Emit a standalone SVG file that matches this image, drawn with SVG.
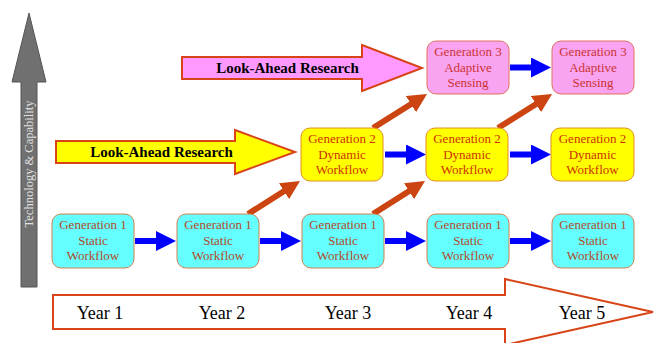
<svg xmlns="http://www.w3.org/2000/svg" width="655" height="343" viewBox="0 0 655 343">
<defs>
<style>
.box text{font-family:"Liberation Serif","Times New Roman",serif;font-size:13px;text-anchor:middle}
.g1 rect{fill:#66FFFF;stroke:#D08050;stroke-width:1}
.g1 text{fill:#B04A2A}
.g2 rect{fill:#FFFF00;stroke:#E09020;stroke-width:1}
.g2 text{fill:#CC3300}
.g3 rect{fill:#F8A4F0;stroke:#E07060;stroke-width:1}
.g3 text{fill:#CC3333}
.big{stroke:#D84418;stroke-width:2}
.la{font-family:"Liberation Serif","Times New Roman",serif;font-size:15px;font-weight:bold;fill:#000;text-anchor:middle}
.yr{font-family:"Liberation Serif","Times New Roman",serif;font-size:18px;fill:#000;text-anchor:middle}
.blue{stroke:#0000FF;stroke-width:6;fill:none}
.red{stroke:#CC4411;stroke-width:6;fill:none}
</style>
<marker id="hb" markerUnits="userSpaceOnUse" markerWidth="20" markerHeight="20" refX="5" refY="10" orient="auto"><path d="M0,0 L20,10 L0,20 z" fill="#0000FF"/></marker>
<marker id="hr" markerUnits="userSpaceOnUse" markerWidth="19" markerHeight="19" refX="5" refY="9.5" orient="auto"><path d="M0,0 L19,9.5 L0,19 z" fill="#CC4411"/></marker>
</defs>
<rect width="655" height="343" fill="#FFFFFF"/>

<g id="axis-capability">
<polygon points="21,287 37,287 37,82 46,82 29,13 12,82 21,82" fill="#707070" stroke="#555555" stroke-width="1"/>
<text transform="translate(33,164) rotate(-90)" font-family="Liberation Serif, Times New Roman, serif" font-size="12.5" fill="#E0E0E0" text-anchor="middle">Technology &amp; Capability</text>
</g>

<g id="axis-years">
<polygon class="big" points="53,295 505,295 505,279 653,312 505,345 505,329 53,329" fill="#FFFFFF"/>
<text class="yr" x="100" y="319">Year 1</text>
<text class="yr" x="222" y="319">Year 2</text>
<text class="yr" x="348" y="319">Year 3</text>
<text class="yr" x="469" y="319">Year 4</text>
<text class="yr" x="582" y="319">Year 5</text>
</g>

<g id="lookahead-pink">
<polygon class="big" points="182,57 362,57 362,45 422,68 362,91 362,79 182,79" fill="#FF99FF"/>
<text class="la" x="287.5" y="73">Look-Ahead Research</text>
</g>

<g id="lookahead-yellow">
<polygon class="big" points="56,141 235,141 235,130 295,152 235,174 235,163 56,163" fill="#FFFF00"/>
<text class="la" x="161.5" y="157">Look-Ahead Research</text>
</g>

<g id="connectors">
<line class="blue" x1="135" y1="241" x2="161" y2="241" marker-end="url(#hb)"/>
<line class="blue" x1="260" y1="241" x2="286" y2="241" marker-end="url(#hb)"/>
<line class="blue" x1="385" y1="241" x2="411" y2="241" marker-end="url(#hb)"/>
<line class="blue" x1="510" y1="241" x2="536" y2="241" marker-end="url(#hb)"/>
<line class="blue" x1="385" y1="154.5" x2="411" y2="154.5" marker-end="url(#hb)"/>
<line class="blue" x1="510" y1="154.5" x2="536" y2="154.5" marker-end="url(#hb)"/>
<line class="blue" x1="510" y1="67.5" x2="536" y2="67.5" marker-end="url(#hb)"/>
<line class="red" x1="248" y1="214" x2="288.2" y2="188.5" marker-end="url(#hr)"/>
<line class="red" x1="373" y1="214" x2="413.2" y2="188.5" marker-end="url(#hr)"/>
<line class="red" x1="373" y1="128" x2="415.2" y2="101.5" marker-end="url(#hr)"/>
<line class="red" x1="498" y1="128" x2="540.2" y2="101.5" marker-end="url(#hr)"/>
</g>

<g id="g1-y1" class="box g1"><rect x="52" y="214" width="82" height="54" rx="9"/><text x="93" y="229">Generation 1</text><text x="93" y="245">Static</text><text x="93" y="260">Workflow</text></g>
<g id="g1-y2" class="box g1"><rect x="177" y="214" width="82" height="54" rx="9"/><text x="218" y="229">Generation 1</text><text x="218" y="245">Static</text><text x="218" y="260">Workflow</text></g>
<g id="g1-y3" class="box g1"><rect x="302" y="214" width="82" height="54" rx="9"/><text x="343" y="229">Generation 1</text><text x="343" y="245">Static</text><text x="343" y="260">Workflow</text></g>
<g id="g1-y4" class="box g1"><rect x="427" y="214" width="82" height="54" rx="9"/><text x="468" y="229">Generation 1</text><text x="468" y="245">Static</text><text x="468" y="260">Workflow</text></g>
<g id="g1-y5" class="box g1"><rect x="552" y="214" width="82" height="54" rx="9"/><text x="593" y="229">Generation 1</text><text x="593" y="245">Static</text><text x="593" y="260">Workflow</text></g>

<g id="g2-y3" class="box g2"><rect x="301" y="128" width="82" height="53" rx="9"/><text x="342" y="143">Generation 2</text><text x="342" y="159">Dynamic</text><text x="342" y="174">Workflow</text></g>
<g id="g2-y4" class="box g2"><rect x="426" y="128" width="82" height="53" rx="9"/><text x="467" y="143">Generation 2</text><text x="467" y="159">Dynamic</text><text x="467" y="174">Workflow</text></g>
<g id="g2-y5" class="box g2"><rect x="551" y="128" width="83" height="53" rx="9"/><text x="592.5" y="143">Generation 2</text><text x="592.5" y="159">Dynamic</text><text x="592.5" y="174">Workflow</text></g>

<g id="g3-y4" class="box g3"><rect x="427" y="41" width="82" height="53" rx="9"/><text x="468" y="56">Generation 3</text><text x="468" y="72">Adaptive</text><text x="468" y="87">Sensing</text></g>
<g id="g3-y5" class="box g3"><rect x="552" y="41" width="82" height="53" rx="9"/><text x="593" y="56">Generation 3</text><text x="593" y="72">Adaptive</text><text x="593" y="87">Sensing</text></g>
</svg>
